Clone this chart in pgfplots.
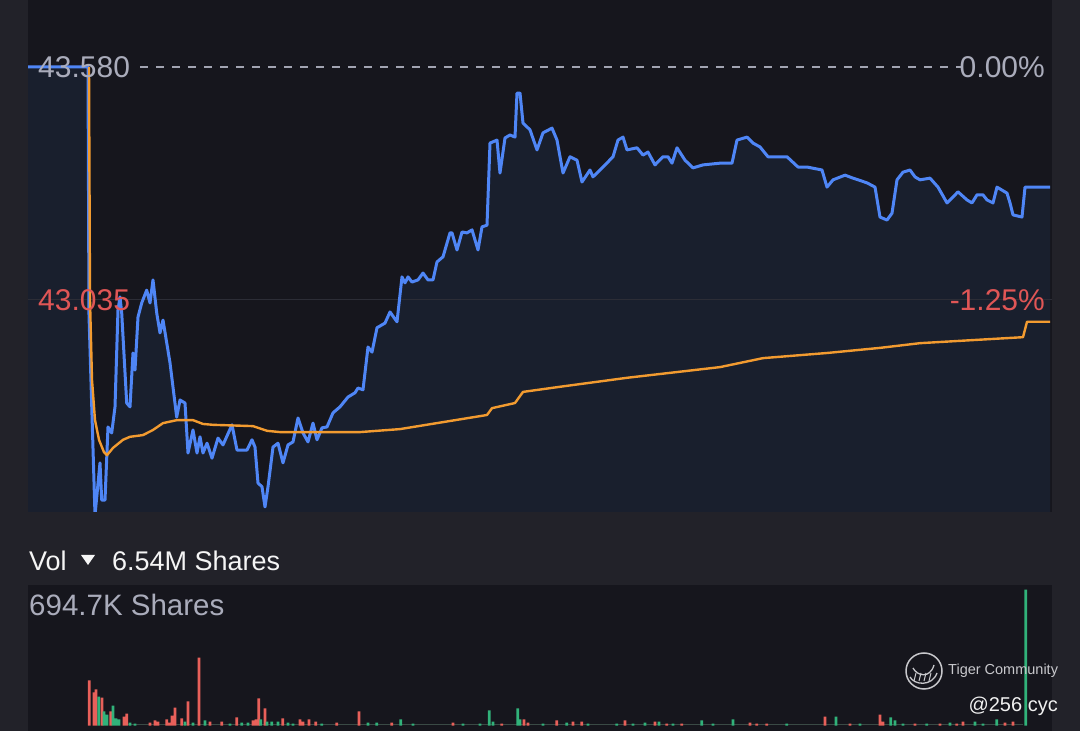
\documentclass[border=0pt]{standalone}
\usepackage{pgfplots}
\pgfplotsset{compat=1.18}
\usepackage{pgfplotstable}
\usepackage{fontspec}
\setmainfont{Liberation Sans}

\definecolor{outerbg}{HTML}{222229}
\definecolor{panelbg}{HTML}{16161D}
\definecolor{areafill}{HTML}{191F2D}
\definecolor{gridc}{HTML}{2C2D36}
\definecolor{dashc}{HTML}{A2A4B2}
\definecolor{lblgray}{HTML}{AAACBB}
\definecolor{lblred}{HTML}{E05656}
\definecolor{lineblue}{HTML}{4F86F6}
\definecolor{vwaporange}{HTML}{F29B30}
\definecolor{volred}{HTML}{E8605A}
\definecolor{volgreen}{HTML}{31B27A}
\definecolor{volbase}{HTML}{3A4A45}
\definecolor{wm}{HTML}{C8C8CC}

\pgfplotstableread{
x y
0 43.580
60 43.580
61 43.000
67 42.532
72 42.654
73.7 42.567
77 42.567
80 42.738
83.7 42.724
87 42.785
90 43.012
92 43.042
93.7 43.005
98.7 42.794
102 42.785
105 42.911
107 42.871
110 42.995
113.7 43.028
118.7 43.058
122 43.028
125 43.082
128.7 43.005
132 42.958
135 42.988
142 42.888
148.7 42.761
152 42.801
157 42.794
160 42.677
165 42.731
169 42.677
172 42.715
175 42.677
179 42.700
184 42.665
190 42.712
195 42.696
204 42.743
209 42.684
219 42.684
224 42.708
227 42.691
230 42.607
234 42.598
237 42.551
240 42.598
245 42.691
250 42.700
255 42.654
260 42.696
265 42.703
270 42.759
275 42.724
280 42.703
285 42.747
289 42.708
294 42.736
299 42.738
305 42.771
312 42.785
320 42.808
327 42.818
330 42.829
335 42.825
340 42.925
344 42.913
349 42.970
357 42.981
362 43.007
369 42.984
374 43.089
377 43.075
380 43.089
384 43.077
390 43.082
395 43.098
400 43.082
405 43.082
409 43.124
415 43.136
422 43.192
424 43.192
429 43.152
434 43.194
439 43.192
444 43.199
450 43.152
454 43.206
459 43.210
462 43.402
469 43.409
472 43.332
477 43.414
482 43.421
487 43.416
489 43.519
492 43.519
495 43.449
502 43.433
509 43.386
515 43.426
524 43.437
529 43.409
535 43.332
542 43.370
549 43.362
554 43.311
562 43.339
565 43.323
575 43.346
585 43.370
590 43.409
595 43.416
599 43.386
609 43.391
615 43.374
620 43.381
627 43.351
635 43.370
640 43.370
644 43.355
649 43.391
657 43.362
665 43.344
675 43.351
692 43.355
704 43.355
709 43.409
719 43.416
725 43.402
732 43.393
740 43.370
759 43.370
770 43.346
779 43.346
794 43.339
799 43.299
805 43.316
817 43.327
825 43.320
839 43.309
847 43.299
852 43.229
859 43.222
864 43.238
869 43.316
875 43.334
882 43.339
887 43.323
892 43.316
902 43.320
910 43.299
919 43.262
925 43.276
930 43.288
939 43.269
944 43.262
949 43.281
955 43.281
959 43.269
965 43.262
969 43.299
979 43.285
982 43.262
985 43.234
994 43.229
997 43.299
1022 43.299
}\pricedata

\pgfplotstableread{
x y
61 43.580
62 43.035
64 42.848
67 42.754
71 42.708
76 42.679
79 42.672
85 42.689
95 42.708
102 42.715
115 42.719
125 42.731
135 42.747
149 42.754
165 42.754
175 42.745
185 42.743
225 42.740
239 42.729
252 42.726
332 42.726
372 42.733
459 42.766
464 42.782
487 42.794
495 42.820
532 42.832
599 42.853
692 42.878
735 42.899
799 42.911
852 42.923
892 42.934
995 42.948
999 42.984
1022 42.984
}\vwapdata

\pgfplotstableread{
x v
61.3 230
66 169
68 184
74 143
82.7 72
96 46
98.7 61
122 15
127 26
130 20
138.7 31
141 15
144 51
147 92
153.7 36
160 123
171 347
182 20
193.7 20
208.7 41
225 26
228 31
230.7 138
237 87
254.7 36
272 31
275 20
281 31
287.7 20
308.7 15
331 72
363.7 15
425 15
473.7 10
496 31
500 15
528.7 26
545 20
553.7 20
597 26
627 20
638.7 10
653.7 10
722 15
728.7 10
738.7 10
797 46
822 10
852 56
855 20
887 10
912 10
928.7 10
935 20
977 15
985 20
}\volred

\pgfplotstableread{
x v
70.7 148
76 72
79 56
85 102
88 36
91 31
102 15
107 10
157 20
165 15
177 26
202 10
213.7 15
220 15
232.7 31
239 20
243.7 20
250 20
260 15
265 10
293.7 10
340 15
348.7 15
372.7 31
385 10
435 10
452 10
461.3 77
465 20
489.7 87
492 31
515 10
538.7 15
560 10
588.7 10
605 10
617 15
631 20
645 10
673.7 26
685 10
705 31
758.7 10
808 46
832 10
862.7 41
867 26
875 10
898.7 10
922 15
947 20
955 10
968.7 31
997.7 694.7
}\volgreen

\begin{document}
\begin{tikzpicture}
\begin{scope}[x=1pt,y=1pt]
\useasboundingbox (0,0) rectangle (1080,731);
\fill[outerbg] (0,0) rectangle (1080,731);
\fill[panelbg] (28,219) rectangle (1052,731);
\fill[panelbg] (28,0) rectangle (1052,146);
\end{scope}

% price panel
\begin{axis}[
  at={(28pt,219pt)}, anchor=south west,
  scale only axis, width=1024pt, height=512pt,
  xmin=0, xmax=1024, ymin=42.5391, ymax=43.7367,
  hide axis, clip=true,
]
\addplot[fill=areafill, draw=none] table[x=x,y=y] {\pricedata}
  -- (axis cs:1022,42.50) -- (axis cs:0,42.50) -- cycle;
\addplot[gridc, line width=1pt] coordinates {(0,43.035) (1024,43.035)};
\addplot[dashc, line width=2pt, dash pattern=on 8pt off 8pt] coordinates {(112,43.580) (934,43.580)};
\addplot[lineblue, line width=3pt, line join=round] table[x=x,y=y] {\pricedata};
\addplot[vwaporange, line width=2.4pt, line join=round] table[x=x,y=y] {\vwapdata};
\node[anchor=west, inner sep=0pt, text=lblgray, font=\fontsize{30pt}{32pt}\selectfont] at (axis cs:10,43.580) {43.580};
\node[anchor=east, inner sep=0pt, text=lblgray, font=\fontsize{30pt}{32pt}\selectfont] at (axis cs:1017,43.580) {0.00\%};
\node[anchor=west, inner sep=0pt, text=lblred, font=\fontsize{30pt}{32pt}\selectfont] at (axis cs:10,43.035) {43.035};
\node[anchor=east, inner sep=0pt, text=lblred, font=\fontsize{30pt}{32pt}\selectfont] at (axis cs:1017,43.035) {-1.25\%};
\end{axis}

% volume panel
\begin{axis}[
  at={(28pt,0pt)}, anchor=south west,
  scale only axis, width=1024pt, height=146pt,
  xmin=0, xmax=1024, ymin=-28, ymax=717.7,
  hide axis, clip=true,
  ybar, bar width=2.8, bar shift=0pt,
]
\addplot[volbase, line width=1.4pt, sharp plot] coordinates {(100,4) (995,4)};
\addplot[fill=volred, draw=none, bar shift=0pt] table[x=x,y=v] {\volred};
\addplot[fill=volgreen, draw=none, bar shift=0pt] table[x=x,y=v] {\volgreen};
\end{axis}

\begin{scope}[x=1pt,y=1pt]
% headers
\node[anchor=west, inner sep=0pt, text=white!92!gray, font=\fontsize{27pt}{29pt}\selectfont] at (29,170) {Vol};
\fill[white!92!gray] (81,176) -- (95,176) -- (88,166) -- cycle;
\node[anchor=west, inner sep=0pt, text=white!92!gray, font=\fontsize{27pt}{29pt}\selectfont] at (112,170) {6.54M Shares};
\node[anchor=west, inner sep=0pt, text=lblgray, font=\fontsize{29.5pt}{31pt}\selectfont] at (29,126) {694.7K Shares};
% watermark
\draw[wm, line width=1.5pt] (924,60) circle (18);
\draw[wm, line width=1.3pt] (910,54) .. controls (914,46) and (932,44) .. (937,58);
\draw[wm, line width=1.3pt] (913,63) .. controls (917,55) and (930,52) .. (934,66);
\foreach \a in {914,919,924,929} { \draw[wm, line width=1pt] (\a,50) -- (\a+2,58); }
\node[anchor=west, inner sep=0pt, text=wm, font=\fontsize{14.5pt}{16pt}\selectfont] at (948,60) {Tiger Community};
\node[anchor=east, inner sep=0pt, text=white!88!gray, font=\fontsize{20pt}{22pt}\selectfont] at (1058,25) {@256 cyc};
\end{scope}
\end{tikzpicture}
\end{document}
